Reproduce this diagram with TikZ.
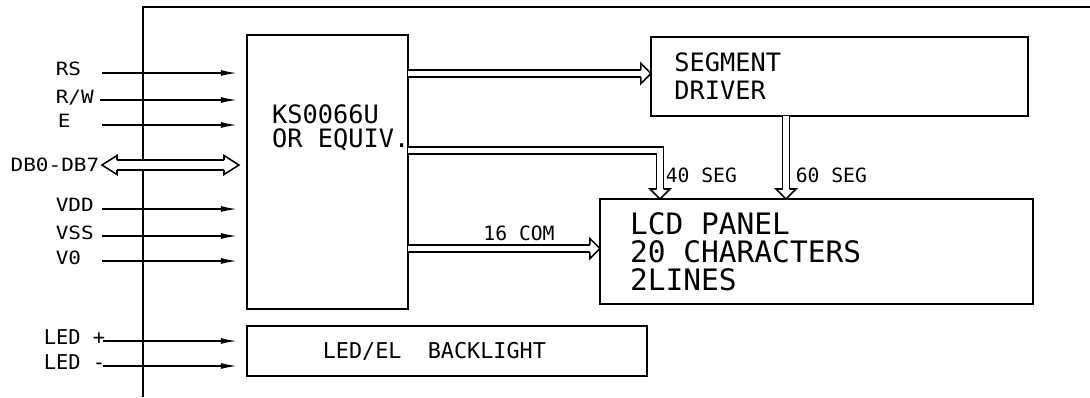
\documentclass[tikz,border=0pt]{standalone}
\usepackage{fontspec}
\newfontfamily\cadfont{DejaVu Sans Mono}
\newfontfamily\pinfont{DejaVu Sans Mono}[FakeStretch=1.15]
\usetikzlibrary{arrows.meta,calc}

\begin{document}
\begin{tikzpicture}[
  x=0.025cm, y=-0.025cm,
  line width=1.1pt,
  caja/.style={rectangle, draw, line width=1.2pt, inner sep=0pt, outer sep=0pt},
  pinlbl/.style={font=\pinfont\fontsize{13}{13}\selectfont, inner sep=0pt},
  ledlbl/.style={font=\cadfont\fontsize{14.5}{14.5}\selectfont, inner sep=0pt},
  buslbl/.style={font=\cadfont\fontsize{14}{14}\selectfont, inner sep=0pt},
  pin/.style={-{Latex[length=11.5pt,width=4.2pt]}, shorten >=7pt},
  bus/.style={double, double distance=3.9pt, shorten >=7pt},
  dbbus/.style={double, double distance=5.9pt, shorten >=10.6pt, shorten <=10.6pt},
  bushead/.pic={\draw (-10,-3.5) -- (-10,-10) -- (0,0) -- (-10,10) -- (-10,3.5);},
  dbhead/.pic={\draw (-15,-5) -- (-15,-9.5) -- (0,0) -- (-15,9.5) -- (-15,5);}
]
\useasboundingbox (0,0) rectangle (1090,397);

% --- Marco ---
\draw (143,397) -- (143,7) -- (1090,7);

% --- Bloques ---
\node[caja, minimum width=4.025cm, minimum height=6.85cm] (ks) at (327.5,172) {};
\node[font=\cadfont\fontsize{18}{17}\selectfont, align=left, anchor=west]
      at ([shift={(14pt,-66pt)}]ks.north west) {KS0066U\\OR EQUIV.};

\node[caja, minimum width=9.425cm, minimum height=1.975cm] (seg) at (839.5,76.5) {};
\node[font=\cadfont\fontsize{18}{20}\selectfont, align=left, anchor=west]
      at ([xshift=12.8pt]seg.west) {SEGMENT\\DRIVER};

\node[caja, minimum width=10.825cm, minimum height=2.625cm] (lcd) at (816.5,251.5) {};
\node[font=\cadfont\fontsize{21}{20}\selectfont, align=left, anchor=west]
      at ([xshift=17.5pt]lcd.west) {LCD PANEL\\20 CHARACTERS\\2LINES};

\node[caja, minimum width=10cm, minimum height=1.25cm] (bl) at (447,351) {};
\node[font=\cadfont\fontsize{15.5}{15.5}\selectfont]
      at ([xshift=-9pt]bl.center) {LED/EL\ \ BACKLIGHT};

% --- Terminales ---
\node[pinlbl, anchor=base west] (lrs) at (55,75) {RS};
\node[pinlbl, anchor=base west] (lrw) at (55,103) {R/W};
\node[pinlbl, anchor=base west] (le) at (57,127) {E};
\node[pinlbl, anchor=base east] (ldb) at (100,171) {DB0-DB7};
\node[pinlbl, anchor=base west] (lvdd) at (55,211) {VDD};
\node[pinlbl, anchor=base west] (lvss) at (55,239) {VSS};
\node[pinlbl, anchor=base west] (lv0) at (55,264) {V0};
\node[ledlbl, anchor=base west] (lledp) at (43,344) {LED +};
\node[ledlbl, anchor=base west] (lledm) at (43,369) {LED -};

\coordinate (prs) at (102,73);
\coordinate (prw) at (100,100);
\coordinate (pe) at (102,125);
\coordinate (pvdd) at (102,209);
\coordinate (pvss) at (102,236);
\coordinate (pv0) at (102,261);
\coordinate (pledp) at (103,341);
\coordinate (pledm) at (103,366);

\draw[pin] (prs) -- (prs -| ks.west);
\draw[pin] (prw) -- (prw -| ks.west);
\draw[pin] (pe) -- (pe -| ks.west);
\draw[pin] (pvdd) -- (pvdd -| ks.west);
\draw[pin] (pvss) -- (pvss -| ks.west);
\draw[pin] (pv0) -- (pv0 -| ks.west);
\draw[pin] (pledp) -- (pledp -| bl.west);
\draw[pin] (pledm) -- (pledm -| bl.west);

% --- Bus de datos ---
\coordinate (dbl) at (102,165);
\coordinate (dbr) at ($(dbl -| ks.west)+(-8,0)$);
\draw[dbbus] (dbl) -- (dbr);
\pic at (dbr) {dbhead};
\pic[rotate=180] at (dbl) {dbhead};

% --- Buses internos ---
\coordinate (b1) at ([yshift=2.1pt]seg.west);
\draw[bus] (b1 -| ks.east) -- (b1);
\pic at (b1) {bushead};

\coordinate (b2) at (660,150.5);
\draw[bus] (b2 -| ks.east) -- (b2) -- (b2 |- lcd.north);
\pic[rotate=-90] at (b2 |- lcd.north) {bushead};
\node[buslbl, anchor=west] (l40) at (665,175) {40 SEG};

\coordinate (b3) at (786,116);
\draw[bus] (b3 |- seg.south) -- (b3 |- lcd.north);
\pic[rotate=-90] at (b3 |- lcd.north) {bushead};
\node[buslbl, anchor=west] (l60) at (795,175) {60 SEG};

\coordinate (b4) at ([yshift=2.1pt]lcd.west);
\draw[bus] (b4 -| ks.east) -- (b4);
\pic at (b4) {bushead};
\node[buslbl] (l16) at (519,233) {16 COM};

\end{tikzpicture}
\end{document}
